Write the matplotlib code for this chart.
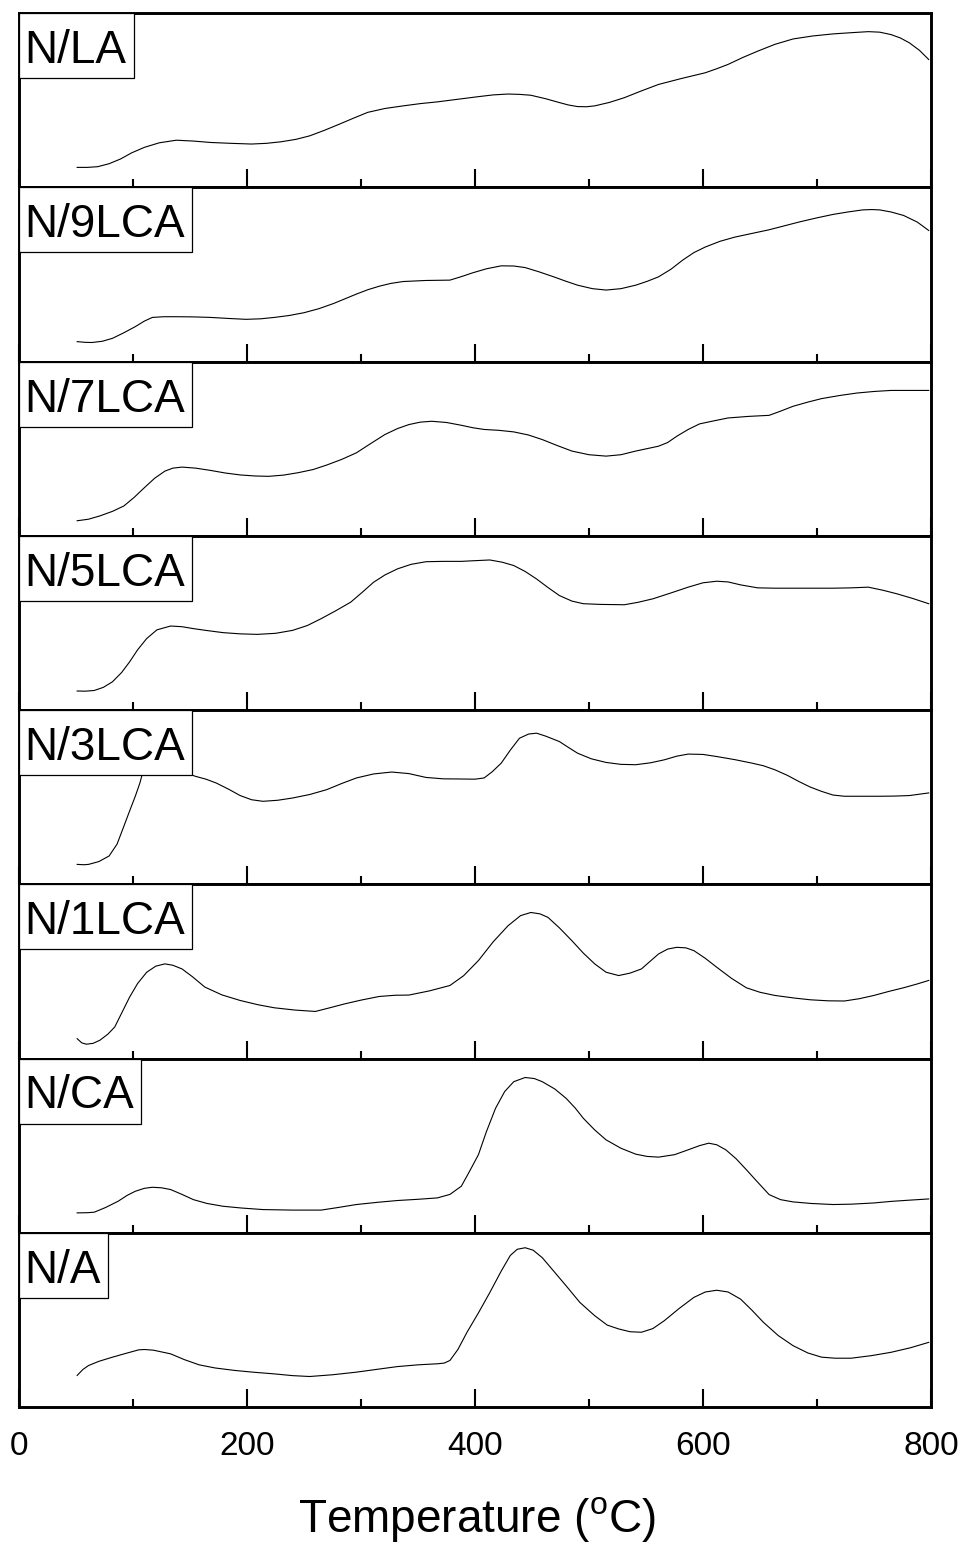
import matplotlib
matplotlib.use("Agg")
import matplotlib.pyplot as plt
from matplotlib.ticker import MultipleLocator
from matplotlib.patches import Rectangle

plt.rcParams['font.family'] = ['Liberation Sans', 'DejaVu Sans']
plt.rcParams['mathtext.fontset'] = 'custom'
plt.rcParams['mathtext.rm'] = 'Liberation Sans'

# ---- data (temperature in degC, signal in arbitrary units) ----
labels = ["N/LA", "N/9LCA", "N/7LCA", "N/5LCA", "N/3LCA", "N/1LCA", "N/CA", "N/A"]

t_la = [51, 60, 69, 79, 89, 99, 110, 123, 138, 153, 168, 186, 204, 217, 230, 243, 255, 268, 281, 294, 306, 321, 337, 352, 367, 385, 403, 416, 429, 439, 449, 462, 474, 482, 490, 498, 505, 518, 531, 546, 561, 581, 602, 612, 622, 635, 648, 663, 679, 696, 714, 730, 745, 755, 765, 773, 781, 790, 798]
y_la = [0.114, 0.114, 0.118, 0.135, 0.162, 0.198, 0.229, 0.255, 0.27, 0.265, 0.257, 0.252, 0.248, 0.252, 0.261, 0.275, 0.295, 0.327, 0.362, 0.398, 0.43, 0.452, 0.467, 0.48, 0.49, 0.505, 0.52, 0.53, 0.535, 0.533, 0.528, 0.508, 0.486, 0.472, 0.463, 0.462, 0.467, 0.487, 0.514, 0.553, 0.59, 0.624, 0.657, 0.68, 0.705, 0.745, 0.781, 0.82, 0.851, 0.868, 0.88, 0.887, 0.893, 0.89, 0.876, 0.857, 0.829, 0.785, 0.733]

t_9 = [51, 58, 64, 73, 82, 92, 102, 110, 117, 127, 138, 153, 168, 184, 199, 212, 224, 237, 250, 263, 276, 286, 296, 306, 316, 326, 337, 357, 378, 388, 398, 410, 423, 434, 444, 456, 469, 480, 490, 503, 515, 528, 541, 551, 561, 572, 582, 592, 602, 615, 628, 643, 658, 671, 684, 699, 714, 727, 740, 748, 755, 765, 776, 788, 798]
y_9 = [0.114, 0.11, 0.109, 0.116, 0.133, 0.165, 0.2, 0.232, 0.253, 0.257, 0.257, 0.256, 0.253, 0.247, 0.242, 0.245, 0.253, 0.264, 0.28, 0.303, 0.333, 0.36, 0.387, 0.412, 0.432, 0.448, 0.459, 0.465, 0.467, 0.487, 0.509, 0.532, 0.549, 0.548, 0.539, 0.515, 0.486, 0.46, 0.438, 0.418, 0.41, 0.418, 0.438, 0.46, 0.486, 0.53, 0.581, 0.625, 0.657, 0.69, 0.714, 0.735, 0.756, 0.778, 0.8, 0.823, 0.844, 0.858, 0.87, 0.872, 0.87, 0.858, 0.838, 0.8, 0.752]

t_7 = [51, 61, 71, 82, 92, 101, 110, 119, 128, 135, 143, 155, 168, 181, 194, 207, 219, 232, 245, 258, 270, 283, 296, 308, 321, 332, 342, 352, 362, 375, 388, 398, 408, 421, 434, 447, 459, 472, 485, 500, 515, 528, 541, 551, 561, 569, 577, 587, 597, 610, 622, 640, 658, 668, 679, 692, 704, 720, 735, 750, 765, 780, 798]
y_7 = [0.086, 0.095, 0.114, 0.14, 0.171, 0.22, 0.276, 0.33, 0.371, 0.388, 0.394, 0.388, 0.375, 0.36, 0.349, 0.343, 0.341, 0.348, 0.362, 0.38, 0.406, 0.438, 0.476, 0.527, 0.581, 0.615, 0.638, 0.652, 0.657, 0.65, 0.634, 0.62, 0.61, 0.605, 0.596, 0.578, 0.552, 0.518, 0.486, 0.465, 0.457, 0.465, 0.486, 0.5, 0.514, 0.535, 0.571, 0.61, 0.642, 0.66, 0.676, 0.685, 0.691, 0.715, 0.743, 0.767, 0.787, 0.805, 0.819, 0.828, 0.834, 0.834, 0.834]

t_5 = [51, 58, 66, 74, 82, 90, 97, 104, 112, 121, 133, 143, 153, 166, 179, 194, 209, 225, 240, 253, 265, 278, 291, 301, 311, 321, 332, 344, 357, 372, 388, 400, 413, 424, 434, 444, 454, 464, 474, 485, 495, 510, 531, 543, 556, 572, 587, 600, 612, 622, 633, 648, 663, 679, 697, 714, 730, 745, 758, 770, 784, 798]
y_5 = [0.109, 0.108, 0.112, 0.13, 0.162, 0.215, 0.276, 0.345, 0.41, 0.46, 0.482, 0.478, 0.467, 0.455, 0.444, 0.437, 0.434, 0.44, 0.457, 0.485, 0.524, 0.57, 0.619, 0.675, 0.733, 0.775, 0.81, 0.836, 0.851, 0.853, 0.853, 0.857, 0.861, 0.848, 0.829, 0.795, 0.752, 0.703, 0.657, 0.625, 0.61, 0.606, 0.604, 0.618, 0.638, 0.672, 0.705, 0.73, 0.739, 0.735, 0.718, 0.701, 0.699, 0.699, 0.699, 0.699, 0.701, 0.705, 0.687, 0.667, 0.64, 0.61]

t_3 = [51, 57, 61, 70, 79, 86, 92, 97, 102, 106, 108, 115, 130, 150, 155, 164, 173, 184, 194, 204, 214, 227, 240, 255, 270, 283, 296, 311, 327, 342, 357, 372, 388, 400, 408, 415, 423, 431, 439, 447, 454, 462, 474, 482, 490, 502, 515, 528, 541, 554, 566, 577, 587, 600, 612, 628, 643, 653, 663, 674, 684, 694, 704, 714, 724, 740, 755, 768, 781, 798]
y_3 = [0.114, 0.112, 0.114, 0.13, 0.162, 0.23, 0.333, 0.42, 0.505, 0.58, 0.629, 0.68, 0.66, 0.63, 0.619, 0.603, 0.581, 0.545, 0.509, 0.485, 0.476, 0.482, 0.495, 0.515, 0.543, 0.578, 0.61, 0.633, 0.644, 0.635, 0.613, 0.605, 0.604, 0.603, 0.61, 0.645, 0.695, 0.77, 0.838, 0.862, 0.867, 0.85, 0.819, 0.785, 0.752, 0.72, 0.699, 0.688, 0.686, 0.697, 0.714, 0.735, 0.747, 0.745, 0.733, 0.715, 0.695, 0.68, 0.657, 0.625, 0.59, 0.558, 0.533, 0.512, 0.505, 0.505, 0.505, 0.506, 0.509, 0.524]

t_1 = [51, 55, 59, 65, 71, 78, 84, 90, 97, 104, 112, 120, 128, 135, 143, 152, 163, 178, 194, 210, 224, 242, 260, 272, 286, 300, 316, 330, 342, 360, 378, 390, 403, 416, 429, 440, 449, 457, 464, 474, 485, 495, 505, 515, 526, 536, 546, 554, 561, 569, 577, 585, 592, 602, 612, 625, 638, 650, 663, 680, 694, 710, 724, 737, 750, 763, 776, 788, 798]
y_1 = [0.114, 0.09, 0.082, 0.087, 0.105, 0.14, 0.181, 0.26, 0.352, 0.43, 0.495, 0.53, 0.543, 0.535, 0.514, 0.47, 0.41, 0.365, 0.333, 0.308, 0.291, 0.278, 0.27, 0.29, 0.314, 0.335, 0.356, 0.363, 0.364, 0.388, 0.419, 0.475, 0.562, 0.67, 0.762, 0.82, 0.838, 0.83, 0.81, 0.75, 0.676, 0.605, 0.543, 0.495, 0.476, 0.49, 0.514, 0.56, 0.6, 0.628, 0.638, 0.635, 0.619, 0.575, 0.524, 0.46, 0.406, 0.38, 0.362, 0.347, 0.337, 0.331, 0.33, 0.343, 0.362, 0.385, 0.406, 0.428, 0.448]

t_ca = [51, 60, 66, 76, 87, 95, 102, 110, 117, 125, 133, 143, 153, 165, 179, 195, 214, 240, 265, 280, 296, 315, 332, 350, 367, 378, 388, 395, 403, 410, 418, 426, 434, 444, 452, 459, 470, 480, 488, 495, 505, 515, 528, 541, 551, 561, 575, 587, 597, 605, 612, 620, 629, 638, 648, 658, 668, 679, 695, 714, 730, 750, 765, 781, 798]
y_ca = [0.114, 0.115, 0.118, 0.145, 0.181, 0.215, 0.238, 0.255, 0.261, 0.258, 0.248, 0.22, 0.19, 0.168, 0.152, 0.142, 0.133, 0.13, 0.13, 0.145, 0.162, 0.175, 0.185, 0.192, 0.2, 0.22, 0.267, 0.35, 0.448, 0.58, 0.714, 0.81, 0.867, 0.891, 0.885, 0.867, 0.825, 0.771, 0.715, 0.657, 0.59, 0.533, 0.485, 0.451, 0.438, 0.434, 0.448, 0.476, 0.5, 0.514, 0.505, 0.476, 0.425, 0.362, 0.29, 0.219, 0.19, 0.177, 0.168, 0.162, 0.164, 0.171, 0.18, 0.187, 0.194]

t_a = [51, 56, 61, 70, 82, 95, 105, 110, 118, 133, 145, 158, 172, 189, 205, 224, 240, 255, 275, 296, 315, 332, 350, 367, 373, 378, 385, 393, 403, 413, 423, 431, 437, 444, 451, 459, 469, 480, 492, 505, 516, 526, 536, 546, 556, 566, 579, 592, 602, 612, 622, 633, 643, 653, 666, 679, 692, 704, 716, 730, 748, 765, 782, 798]
y_a = [0.181, 0.215, 0.238, 0.262, 0.286, 0.31, 0.328, 0.33, 0.326, 0.305, 0.272, 0.242, 0.224, 0.21, 0.2, 0.19, 0.18, 0.175, 0.185, 0.2, 0.217, 0.232, 0.242, 0.248, 0.252, 0.267, 0.33, 0.429, 0.54, 0.657, 0.78, 0.87, 0.905, 0.914, 0.9, 0.857, 0.78, 0.695, 0.6, 0.524, 0.47, 0.448, 0.432, 0.429, 0.45, 0.495, 0.565, 0.629, 0.66, 0.67, 0.66, 0.619, 0.555, 0.486, 0.41, 0.352, 0.31, 0.286, 0.28, 0.28, 0.295, 0.314, 0.34, 0.371]

temps = [t_la, t_9, t_7, t_5, t_3, t_1, t_ca, t_a]
signals = [y_la, y_9, y_7, y_5, y_3, y_1, y_ca, y_a]

xticks_major = [0, 200, 400, 600, 800]

# ---- figure ----
W, H = 968, 1546
fig = plt.figure(figsize=(W / 100, H / 100), dpi=100)
left, right = 19 / W, 931 / W
top, bottom = 1 - 13 / H, 1 - 1407 / H
n = len(labels)
ph = (top - bottom) / n

renderer = fig.canvas.get_renderer()
for i in range(n):
    ax = fig.add_axes([left, top - (i + 1) * ph, right - left, ph])
    ax.plot(temps[i], signals[i], color='black', lw=0.8, solid_joinstyle='round')
    ax.set_xlim(0, 800)
    ax.set_ylim(0, 1)
    ax.set_yticks([])
    ax.xaxis.set_major_locator(MultipleLocator(200))
    ax.xaxis.set_minor_locator(MultipleLocator(100))
    ax.tick_params(axis='x', which='major', direction='in', length=13, width=1.5,
                   top=False, bottom=True, labelsize=24, pad=17)
    ax.tick_params(axis='x', which='minor', direction='in', length=6, width=1.5,
                   top=False, bottom=True)
    for s in ax.spines.values():
        s.set_linewidth(2.1)
    if i < n - 1:
        ax.tick_params(axis='x', which='both', labelbottom=False)
    else:
        ax.set_xticks(xticks_major)
        ax.set_xticklabels([str(v) for v in xticks_major])
    # panel label with white box (covers the curve beneath)
    txt = ax.annotate(labels[i], xy=(0, 1), xycoords='axes fraction',
                      xytext=(4.0, -36.0), textcoords='offset points',
                      ha='left', va='baseline', fontsize=33, zorder=6)
    ext = txt.get_window_extent(renderer)
    axbb = ax.get_window_extent(renderer)
    box_right_px = ext.x1 + 7
    box_h_px = 65
    inv = ax.transAxes.inverted()
    (x0, y0) = inv.transform((axbb.x0, axbb.y1 - box_h_px))
    (x1, y1) = inv.transform((box_right_px, axbb.y1))
    ax.add_patch(Rectangle((x0, y0), x1 - x0, y1 - y0, transform=ax.transAxes,
                           facecolor='white', edgecolor='black', lw=0.9,
                           clip_on=False, zorder=5))

fig.text(477 / W, 1 - 1520 / H, r'Temperature ($^{\mathrm{o}}$C)', ha='center', va='center',
         fontsize=33)

fig.savefig('out.png', dpi=100)
